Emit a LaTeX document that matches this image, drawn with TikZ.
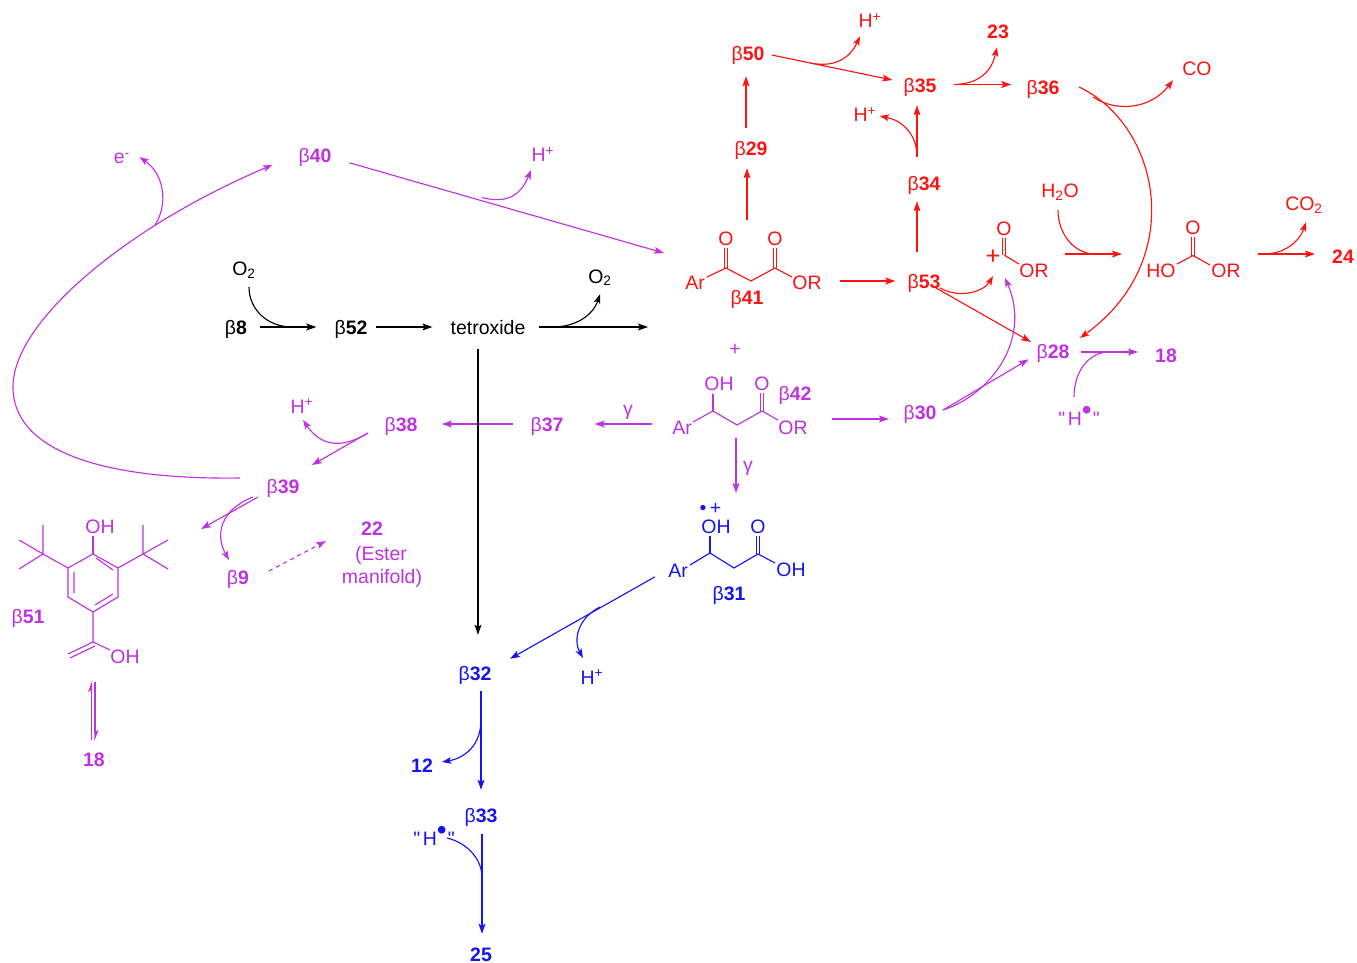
\documentclass[tikz,border=0pt]{standalone}
\usepackage{fontspec}
\setmainfont{Liberation Sans}
\newfontfamily\plainf{Liberation Sans}
\usetikzlibrary{arrows.meta}
\definecolor{cr}{HTML}{FF1212}
\definecolor{cm}{HTML}{BE32E0}
\definecolor{cb}{HTML}{1414F5}
\newcommand{\bn}[1]{β\textbf{#1}}
\newcommand{\hdot}{{\plainf "}\kern2pt H\raisebox{.28em}{\smash{\fontsize{21}{21}\selectfont •}}\kern.8pt{\plainf "}}
\tikzset{
  x=.75pt,y=-.75pt,
  lbl/.style={inner sep=.75pt,text height=10.5pt,text depth=0pt,font=\fontsize{14.6}{16}\selectfont},
  conn/.style={line width=.85pt,-{Stealth[length=7.5pt,width=5.2pt,inset=1.6pt]}},
  hook/.style={line width=.85pt,-{Stealth[length=7pt,width=5pt,inset=1.6pt]}},
  merge/.style={line width=.85pt},
  bond/.style={line width=.85pt},
  gap/.style 2 args={shorten <=#1*.75pt,shorten >=#2*.75pt},
  nr/.style={lbl,text=cr},
  nm/.style={lbl,text=cm},
  nb/.style={lbl,text=cb},
  nk/.style={lbl,text=black},
  rr/.style={conn,draw=cr},
  rm/.style={conn,draw=cm},
  rb/.style={conn,draw=cb},
  rk/.style={conn,draw=black},
  cvr/.style={hook,draw=cr},
  cvm/.style={hook,draw=cm},
  cvb/.style={hook,draw=cb},
  cvk/.style={hook,draw=black},
}
\begin{document}
\begin{tikzpicture}
\useasboundingbox (0,0) rectangle (1357,963);
% ---------- black
\node[nk] (o2a) at (244,269) {O\textsubscript{2}};
\node[nk] (b8) at (236,327) {\bn{8}};
\node[nk] (b52) at (351,327) {\bn{52}};
\node[nk] (tet) at (488,327) {tetroxide};
\node[nk] (o2b) at (600,276) {O\textsubscript{2}};
\coordinate (tetout) at (648,327);
\coordinate (m1) at (292,327);
\coordinate (m2) at (553,327);
\draw[rk,gap={12}{17}] (b8) -- (b52);
\draw[rk,gap={7}{17}] (b52) -- (tet);
\draw[rk,gap={12}{0}] (tet) -- (tetout);
\draw[merge,draw=black] (249,287) .. controls (249,310) and (268,327) .. (m1);
\draw[cvk] (m2) .. controls (576,327) and (593,315) .. ([yshift=-7.5pt]o2b.south);
% ---------- red labels
\node[nr] (b50) at (748,54) {\bn{50}};
\node[nr] (hp1) at (870,21) {H\textsuperscript{+}};
\node[nr] (b35) at (920,86) {\bn{35}};
\node[nr] (n23) at (998,32) {\textbf{23}};
\node[nr] (b36) at (1043,88) {\bn{36}};
\node[nr] (co) at (1197,69) {CO};
\node[nr] (b29) at (751,149) {\bn{29}};
\node[nr] (hp2) at (865,115) {H\textsuperscript{+}};
\node[nr] (b34) at (924,184) {\bn{34}};
\node[nr] (b53) at (924,281) {\bn{53}};
\node[nr] (b41) at (747,297) {\bn{41}};
\node[nr] (ar41) at (695,282) {Ar};
\node[nr] (o41a) at (726,239) {O};
\node[nr] (o41b) at (775,239) {O};
\node[nr] (or41) at (807,282) {OR};
\node[nr] (oc) at (1004,228) {O};
\node[nr] (orc) at (1034,270) {OR};
\node[nr,font=\fontsize{19}{19}\selectfont] (plusc) at (993,257) {+};
\node[nr] (h2o) at (1060,191) {H\textsubscript{2}O};
\node[nr] (ho) at (1161,270) {HO};
\node[nr] (oh2) at (1193,227) {O};
\node[nr] (or2) at (1226,270) {OR};
\node[nr] (co2) at (1304,204) {CO\textsubscript{2}};
\node[nr] (n24) at (1343,256) {\textbf{24}};
\node[nm] (b28) at (1053,351) {\bn{28}};
% red structures
\draw[bond,draw=cr] (707,277) -- (726,268) -- (751,281) -- (775,268) -- (792,277);
\draw[bond,draw=cr] (724.5,268) -- (724.5,248) (727.5,268) -- (727.5,248);
\draw[bond,draw=cr] (773.5,268) -- (773.5,248) (776.5,268) -- (776.5,248);
\draw[bond,draw=cr] (1002.5,255) -- (1002.5,238) (1005.5,255) -- (1005.5,238);
\draw[bond,draw=cr] (1004,255) -- (1019,264);
\draw[bond,draw=cr] (1191.5,256) -- (1191.5,237) (1194.5,256) -- (1194.5,237);
\draw[bond,draw=cr] (1177,264) -- (1193,255.5) -- (1210,265);
% red connectors
\coordinate (t41) at (747,220);
\coordinate (m50) at (810,63);
\coordinate (m36) at (1093,97);
\coordinate (m34) at (917,157);
\coordinate (in2) at (1065,254);
\coordinate (out2) at (1122,254);
\coordinate (m2a) at (1095,254);
\coordinate (m3) at (1258,254);
\coordinate (cat) at (993,276);
\coordinate (t28) at (1080,338);
\coordinate (s35) at (954,84.5);
\coordinate (s36) at (1079,87);
\coordinate (s53) at (936,288);
\draw[rr,gap={0}{11}] (t41) -- (t41 |- b29.south);
\draw[rr,gap={13}{14}] ([xshift=-3.75pt]b29.north) -- ([xshift=-1.5pt]b50.south);
\draw[rr] ([xshift=4.5pt,yshift=-.75pt]b50.east) -- ([xshift=-7.5pt,yshift=4.5pt]b35.west);
\draw[cvr] (m50) .. controls (835,68) and (850,58) .. ([xshift=-7.5pt,yshift=-5.25pt]hp1.south);
\draw[rr,gap={0}{14}] (s35) -- (s35 -| b36.west);
\draw[cvr] (s35) .. controls (985,84) and (993,65) .. ([xshift=-.75pt,yshift=-5.25pt]n23.south);
\draw[cvr] (m36) .. controls (1115,112) and (1150,110) .. ([xshift=-18pt,yshift=-2.25pt]co.south);
\draw[cvr] (s36) .. controls (1160,125) and (1188,260) .. (t28);
\draw[rr] (m34) -- ([xshift=-2.25pt,yshift=-8.25pt]b35.south);
\draw[cvr] (m34) .. controls (917,132) and (900,120) .. ([xshift=1.5pt,yshift=-.75pt]hp2.east);
\draw[rr,gap={21}{9}] ([xshift=-5.25pt]b53.north) -- ([xshift=-5.25pt]b34.south);
\draw[rr,gap={17}{11}] (or41.east |- b53) -- (b53);
\draw[rr] (s53) -- (1031,342);
\draw[cvr] (940,288) .. controls (962,300) and (985,290) .. (cat);
\draw[merge,draw=cr] (1058,210) .. controls (1058,235) and (1075,254) .. (m2a);
\draw[rr] (in2) -- (out2);
\draw[rr,gap={0}{16}] (m3) -- (m3 -| n24.west);
\draw[cvr] (m3) .. controls (1285,256) and (1300,240) .. ([xshift=1.5pt,yshift=-7.5pt]co2.south);
% ---------- magenta labels
\node[nm] (plus) at (735,348) {+};
\node[nm] (ar42) at (682,427) {Ar};
\node[nm] (oh42) at (719,383) {OH};
\node[nm] (o42) at (762,383) {O};
\node[nm] (or42) at (793,427) {OR};
\node[nm] (b42) at (795,393) {\bn{42}};
\node[nm] (b30) at (920,412) {\bn{30}};
\node[nm] (n18a) at (1166,355) {\textbf{18}};
\node[nm] (hd1) at (1079,418) {\hdot};
\node[nm] (b37) at (547,424) {\bn{37}};
\node[nm] (b38) at (401,424) {\bn{38}};
\node[nm] (hp3) at (302,406) {H\textsuperscript{+}};
\node[nm] (b39) at (283,486) {\bn{39}};
\node[nm] (b40) at (315,156) {\bn{40}};
\node[nm] (em) at (122,157) {e\textsuperscript{-}};
\node[nm] (hp4) at (543,155) {H\textsuperscript{+}};
\node[nm] (g1) at (628,408) {γ};
\node[nm] (g2) at (748,464) {γ};
\node[nm] (b9) at (238,577) {\bn{9}};
\node[nm] (n22) at (372,528) {\textbf{22}};
\node[nm] (est) at (381,553) {(Ester};
\node[nm] (man) at (382,576) {manifold)};
\node[nm] (oh51) at (100,526) {OH};
\node[nm] (oh51b) at (125,656) {OH};
\node[nm] (b51) at (28,616) {\bn{51}};
\node[nm] (n18b) at (94,759) {\textbf{18}};
% magenta structures
\draw[bond,draw=cm] (693,422) -- (713,411) -- (737,425) -- (762,411) -- (778,420);
\draw[bond,draw=cm] (713,411) -- (713,394);
\draw[bond,draw=cm] (760.5,411) -- (760.5,393) (763.5,411) -- (763.5,393);
\draw[bond,draw=cm] (93,554) -- (118,568) -- (118,597) -- (93,612) -- (68,597) -- (68,568) -- cycle;
\draw[bond,draw=cm] (93,536) -- (93,554);
\draw[bond,draw=cm] (96,558) -- (113,570) (74,572) -- (74,593) (95,605) -- (113,594);
\draw[bond,draw=cm] (118,568) -- (143,554) (143,525) -- (143,554) (168,540) -- (143,554) -- (168,569);
\draw[bond,draw=cm] (68,568) -- (43,554) (43,525) -- (43,554) (19,540) -- (43,554) -- (19,569);
\draw[bond,draw=cm] (93,612) -- (93,642) -- (110,650);
\draw[bond,draw=cm] (93,642) -- (68,654) (95,646) -- (70,658);
% magenta connectors
\coordinate (m42) at (832,419);
\coordinate (m28) at (1081,352);
\coordinate (m28b) at (1109,352);
\coordinate (m40) at (482,197.5);
\coordinate (m39) at (155,225);
\coordinate (m38) at (368,433);
\coordinate (s39) at (240,478);
\coordinate (s30) at (943,410);
\coordinate (c39) at (253,497);
\draw[rm] (m42) -- (889,419);
\draw[rm] (s30) -- ([xshift=-5pt]b28.south west);
\draw[cvm] (s30) .. controls (990,395) and (1032,340) .. (1005,278);
\draw[rm] (m28) -- (1138,352);
\draw[merge,draw=cm] (1074,397) .. controls (1074,370) and (1090,352) .. (m28b);
\draw[rm,gap={19}{30}] (b37 -| ar42.west) -- (b37);
\draw[rm] (513,424) -- (442,424);
\draw[rm] (m38) -- (312,465);
\draw[cvm] (m38) .. controls (340,450) and (320,445) .. (303,420);
\draw[cvm] (s39) .. controls (100,480) and (13,450) .. (13,387) .. controls (13,320) and (130,225) .. ([xshift=-18.75pt,yshift=-6.75pt]b40.west);
\draw[cvm] (m39) .. controls (168,205) and (165,175) .. (139.5,157);
\draw[rm,shorten <=13pt] (b40.east |- 0,158) -- (664,253);
\draw[cvm] (m40) .. controls (510,205) and (522,192) .. (531,170);
\draw[rm] (258,497) -- (201,529);
\draw[cvm] (c39) .. controls (220,510) and (215,535) .. (229,560);
\draw[rm,dashed] (269,571) -- (326,541);
\draw[line width=.85pt,draw=cm,-{Stealth[length=7pt,width=5pt,inset=1.6pt,harpoon]}] (91.5,740) -- (91.5,681);
\draw[line width=.85pt,draw=cm,-{Stealth[length=7pt,width=5pt,inset=1.6pt,harpoon]}] (95,682) -- (95,741);
\draw[rm] (736,438) -- (736,493);
% ---------- blue labels
\node[nb] (rad) at (710.5,507) {•\kern2.5pt+};
\node[nb] (oh31) at (716,526) {OH};
\node[nb] (o31) at (758,526) {O};
\node[nb] (ar31) at (678,570) {Ar};
\node[nb] (oh31b) at (791,569) {OH};
\node[nb] (b31) at (729,593) {\bn{31}};
\node[nb] (b32) at (475,673) {\bn{32}};
\node[nb] (hp5) at (592,677) {H\textsuperscript{+}};
\node[nb] (n12) at (422,765) {\textbf{12}};
\node[nb] (b33) at (481,815) {\bn{33}};
\node[nb] (hd2) at (434,838) {\hdot};
\node[nb] (n25) at (481,954) {\textbf{25}};
\draw[bond,draw=cb] (690,565) -- (710,553) -- (734,568) -- (758,554) -- (775,563);
\draw[bond,draw=cb] (710,553) -- (710,536);
\draw[bond,draw=cb] (756.5,554) -- (756.5,536) (759.5,554) -- (759.5,536);
% black vertical and blue connectors
\draw[rk,gap={14}{30}] ([xshift=-7.5pt]tet.south) -- ([xshift=2.25pt]b32.north);
\draw[rb,gap={14}{0}] (ar31.west) -- ([xshift=13pt,yshift=4.5pt]b32.north east);
\coordinate (m31) at (600,607);
\coordinate (m32) at (481,720);
\coordinate (m33) at (482,877);
\draw[cvb] (m31) .. controls (578,618) and (573,640) .. (583,658);
\draw[rb,gap={10}{17}] ([xshift=4.5pt]b32.south) -- (b33.north);
\draw[cvb] (m32) .. controls (481,745) and (465,758) .. (442,762);
\draw[rb,gap={11}{12}] ([xshift=.75pt]b33.south) -- ([xshift=.75pt]n25.north);
\draw[merge,draw=cb] (447,838) .. controls (468,843) and (482,860) .. (m33);
\end{tikzpicture}
\end{document}
